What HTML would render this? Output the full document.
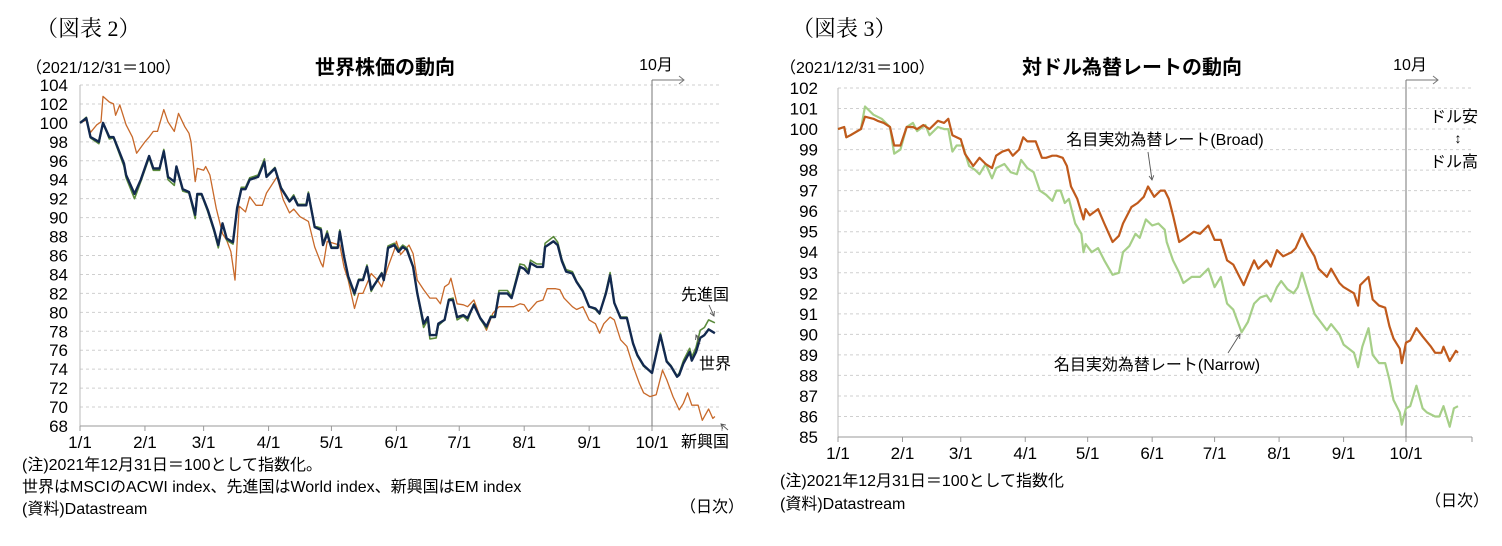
<!DOCTYPE html>
<html><head><meta charset="utf-8">
<style>
body{margin:0;background:#fff;width:1502px;height:546px;overflow:hidden;font-family:"Liberation Sans","Noto Sans CJK JP",sans-serif;}
svg{position:absolute;left:0;top:0}
text{font-family:"Liberation Sans","Noto Sans CJK JP",sans-serif;fill:#000}
.ser{font-family:"Liberation Serif","Noto Serif CJK SC",serif}
</style></head><body>
<svg id="c" width="1502" height="546">
<text class="ser" x="36" y="36" font-size="22">（図表 2）</text>
<text class="ser" x="792" y="36" font-size="22">（図表 3）</text>
<text x="26" y="73" font-size="16">（2021/12/31＝100）</text>
<text x="385" y="74" font-size="20" font-weight="bold" text-anchor="middle">世界株価の動向</text>
<text x="780" y="73" font-size="16">（2021/12/31＝100）</text>
<text x="1132" y="74" font-size="20" font-weight="bold" text-anchor="middle">対ドル為替レートの動向</text>
<text x="22" y="470" font-size="16">(注)2021年12月31日＝100として指数化。</text>
<text x="22" y="492" font-size="16">世界はMSCIのACWI index、先進国はWorld index、新興国はEM index</text>
<text x="22" y="514" font-size="16">(資料)Datastream</text>
<text x="680" y="512" font-size="16">（日次）</text>
<text x="780" y="486" font-size="16">(注)2021年12月31日＝100として指数化</text>
<text x="780" y="509" font-size="16">(資料)Datastream</text>
<text x="1425" y="506" font-size="16">（日次）</text>
<g id="g"></g>
</svg>
<script>
// Left chart data (day of year, value)
const worldDays=[0,3,5,9,11,14,16,21,22,26,29,33,35,38,40,42,45,46,49,52,55,56,58,61,64,66,68,70,73,75,77,79,81,85,88,89,93,96,100,102,104,108,109,112,115,116,118,120,123,124,126,128,131,133,135,137,139,142,144,145,147,150,152,154,156,159,161,164,166,167,170,171,174,176,178,180,183,185,188,191,194,196,198,200,204,206,210,212,214,215,218,221,222,226,228,230,232,235,237,240,243,246,248,251,253,255,258,261,264,266,269,273,274,277,280,282,285,286,288,291,292,294,296,298,300,303];
const worldVals=[100,100.5,98.5,98,100,98.5,98.5,95.7,94.5,92.5,94,96.5,95.2,95.2,97,94.3,93.8,95.4,93,92.7,90.3,92.5,92.5,90.8,88.7,87.1,89.4,87.8,87.4,91,93,93,94,94.3,95.9,94.3,95.2,93.1,91.7,92.2,91.3,91.3,92.5,89,88.7,87.1,88.3,86.8,86.8,88.5,85.9,83.8,82,83.4,83.4,84.8,82.4,83.4,84.1,83.4,86.8,87.1,86.4,86.9,86.6,84.8,82,78.8,79.5,77.6,77.6,78.8,79.2,81.3,81.3,79.5,79.7,79.4,80.8,79.4,78.5,79.5,79.5,82,82,81.5,84.8,84.6,84.1,85.2,84.8,84.8,86.9,87.5,87.1,85.4,84.3,84.1,83.2,82.2,80.6,80.4,79.9,82,83.9,81,79.4,79.4,76.7,75.5,74.4,73.6,74.6,77.6,74.8,74.3,73.2,73.4,74.6,75.8,74.9,75.8,77.3,77.6,78.2,77.8];
const devVals=[100,100.6,98.4,97.8,100,98.3,98.4,95.4,94.2,92,93.8,96.3,95,95,97.2,94,93.4,95.3,92.8,92.6,89.9,92.4,92.4,90.6,88.5,86.8,89.3,87.6,87.2,91.1,93.2,93.2,94.2,94.5,96.2,94.4,95.3,93.2,91.8,92.4,91.4,91.4,92.7,89.1,88.9,87.2,88.6,86.9,86.9,88.7,85.9,83.6,81.8,83.5,83.5,85,82.2,83.5,84.2,83.5,87,87.3,86.6,87.1,86.8,84.9,81.9,78.4,79.2,77.2,77.3,78.6,79.2,81.4,81.5,79.2,79.6,79.1,80.9,79.3,78.3,79.6,79.6,82.3,82.3,81.7,85.1,85,84.4,85.5,85.1,85.1,87.3,88,87.4,85.6,84.5,84.3,83.3,82.3,80.6,80.3,79.8,82.2,84.2,81,79.5,79.5,76.7,75.4,74.3,73.6,74.6,77.8,74.9,74.4,73.3,73.6,74.9,76.2,75.3,76.3,78.1,78.4,79.2,78.9];
const emDays=[0,3,5,8,10,11,14,16,17,19,22,25,27,31,33,35,37,40,42,45,47,50,52,53,55,56,59,60,62,65,68,70,72,74,76,79,81,84,87,89,94,97,100,102,105,109,112,115,116,118,121,124,126,128,131,133,135,139,142,144,147,150,151,153,157,159,161,164,167,170,172,174,176,177,180,183,185,188,191,194,197,200,204,207,210,212,214,218,221,223,227,229,231,235,237,240,243,246,248,250,253,255,258,261,264,267,269,272,275,278,280,283,286,288,290,292,295,297,300,302,303];
const emVals=[100,100.3,99,99.8,100.1,102.8,102.2,102,100.8,101.9,99.8,98.5,96.8,98,98.5,99.1,99.1,101.4,100.1,99.1,101,99.6,98.9,98,93.8,95.2,95,95.4,94.5,91,88.3,87.6,86.4,83.4,91.2,90.6,92.2,91.3,91.3,92.6,94.3,91.9,90.5,90.9,90.1,89.6,86.9,85.2,84.8,87.5,87.3,87.1,84.8,83.4,80.4,82,82,84.1,83.4,82.7,84.8,86.6,87.5,86.1,87.1,86.2,83.4,82.4,81.5,81.5,80.9,82.7,83,83.6,80.9,80.8,80.6,81.3,79.5,78.1,79.9,80.6,80.6,80.6,80.9,80.8,80.1,81.1,81.3,82.5,82.5,82.4,81.5,80.6,80.3,80.6,79.2,78.8,77.8,78.8,79.5,79.2,77.1,76.4,74.3,72.5,71.5,71.1,71.3,73.9,72.9,71.1,69.7,70.4,71.5,70.2,70.2,68.6,69.8,68.8,69];
const leftTicks=[104,102,100,98,96,94,92,90,88,86,84,82,80,78,76,74,72,70,68];
const monthLabels=["1/1","2/1","3/1","4/1","5/1","6/1","7/1","8/1","9/1","10/1"];
const monthDays=[0,31,59,90,120,151,181,212,243,273];
// Right chart data
const broadDays=[0,3,4,6,11,13,17,19,22,25,27,30,33,36,38,41,44,48,51,53,55,59,61,65,68,71,74,76,79,82,84,87,89,91,95,98,100,103,105,108,110,112,115,118,119,121,125,128,132,135,137,141,144,147,149,152,155,157,159,161,164,167,171,174,178,181,184,187,190,195,197,200,202,206,208,211,214,218,220,223,226,229,231,235,237,241,243,248,250,251,255,257,260,263,265,267,270,271,273,275,278,281,285,287,290,291,294,297,298];
const broadVals=[100,100.1,99.6,99.7,100,100.6,100.5,100.4,100.3,100.1,99.2,99.2,100.1,100.1,100,100.2,100,100.4,100.3,100.5,99.7,99.5,98.8,98.2,98.6,98.3,98.1,98.7,98.9,99,98.7,99,99.6,99.4,99.4,98.6,98.6,98.7,98.7,98.6,98.2,97.2,96.6,95.6,96.1,95.8,96.1,95.4,94.5,94.8,95.4,96.2,96.4,96.7,97.2,96.7,97,97,96.6,95.8,94.5,94.7,95,94.9,95.3,94.6,94.6,93.6,93.4,92.4,92.9,93.6,93.2,93.6,93.3,94.1,93.8,94,94.2,94.9,94.3,93.8,93.2,92.8,93.2,92.5,92.3,92,91.4,92.4,92.8,91.7,91.4,91.3,90.4,89.8,89.3,88.6,89.6,89.7,90.3,89.9,89.4,89.1,89.1,89.4,88.7,89.2,89.1];
const narrowDays=[0,3,4,6,11,13,17,21,25,27,30,33,36,38,42,44,48,51,53,55,57,60,63,66,68,71,74,76,80,83,86,88,91,94,97,100,103,105,107,109,111,114,117,118,119,122,125,128,132,135,137,140,143,145,148,151,154,157,158,161,164,166,170,174,178,181,184,187,190,194,197,200,203,206,208,211,213,216,219,221,223,226,229,232,235,237,241,243,248,250,252,255,257,260,263,265,267,270,271,273,275,278,281,283,287,289,291,294,296,298];
const narrowVals=[100,100.1,99.6,99.7,100,101.1,100.7,100.5,100.1,98.8,99,100.1,100.3,99.9,100.2,99.7,100.1,100,100,98.9,99.2,99.2,98.2,98,97.8,98.3,97.6,98.1,98.3,97.9,97.8,98.5,98.1,97.9,97,96.8,96.5,97,97,96.4,96.6,95.4,94.9,94,94.4,94,94.2,93.6,92.9,93,94,94.3,94.9,94.7,95.6,95.3,95.4,95.1,94.5,93.6,93,92.5,92.8,92.8,93.2,92.3,92.8,91.5,91.2,90.1,90.6,91.5,91.8,91.9,91.6,92.3,92.6,92.2,92,92.3,93,92,91,90.6,90.2,90.5,90,89.5,89.1,88.4,89.4,90.3,89,88.6,88.6,87.8,86.8,86.2,85.6,86.4,86.5,87.5,86.4,86.2,86,86,86.5,85.5,86.4,86.5];
const rightTicks=[102,101,100,99,98,97,96,95,94,93,92,91,90,89,88,87,86,85];

const NS="http://www.w3.org/2000/svg";
const g=document.getElementById('g');
function mk(tag,at,parent){const e=document.createElementNS(NS,tag);for(const k in at)e.setAttribute(k,at[k]);(parent||g).appendChild(e);return e;}
const L={x0:80,x10:652,xEnd:722,yTop:85,yBot:426,vMax:104,vMin:68};
const R={x0:838,x10:1406,xEnd:1472,yTop:88,yBot:437,vMax:102,vMin:85};
function xs(C,d){return C.x0+d*(C.x10-C.x0)/273;}
function ys(C,v){return C.yTop+(C.vMax-v)*(C.yBot-C.yTop)/(C.vMax-C.vMin);}
function axes(C,ticks,side,lblX){
  ticks.forEach(t=>{
    const y=ys(C,t);
    if(t!==C.vMin){const gl=mk('line',{x1:C.x0,x2:C.xEnd,y1:y,y2:y,stroke:'#cfcfcf','stroke-dasharray':'3,3'});
    
    }
    const tx=mk('text',{x:lblX,y:y+6,'font-size':17,'text-anchor':'end'});tx.textContent=t;
    
    
  });
  const ya=mk('line',{x1:C.x0,x2:C.x0,y1:C.yTop,y2:C.yBot,stroke:'#bbb'});
  
  
  const xa=mk('line',{x1:C.x0,x2:C.xEnd,y1:C.yBot,y2:C.yBot,stroke:'#999'});
  
  
  monthDays.forEach((d,i)=>{
    const x=xs(C,d);
    mk('line',{x1:x,x2:x,y1:C.yBot,y2:C.yBot+5,stroke:'#999'});
    const tx=mk('text',{x:x,y:C.yBot+22,'font-size':17,'text-anchor':'middle'});tx.textContent=monthLabels[i];
    
    
  });
  mk('line',{x1:C.xEnd,x2:C.xEnd,y1:C.yBot,y2:C.yBot+5,stroke:'#999'});
  const x10=xs(C,273);
  const vl=mk('line',{x1:x10,x2:x10,y1:80,y2:C.yBot,stroke:'#777'});
  
  
  mk('polyline',{points:`${x10},80 ${x10+32},80`,stroke:'#777',fill:'none'});
  mk('polyline',{points:`${x10+27},76 ${x10+32},80 ${x10+27},84`,stroke:'#777',fill:'none'});
  const oc=mk('text',{x:x10+4,y:70,'font-size':16,'text-anchor':'middle'});oc.textContent='10月';
  
  
}
function series(C,days,vals,color,w,name){
  const pts=days.map((d,i)=>xs(C,d).toFixed(1)+','+ys(C,vals[i]).toFixed(1)).join(' ');
  const p=mk('polyline',{points:pts,fill:'none',stroke:color,'stroke-width':w,'stroke-linejoin':'round'});
  
  
}
axes(L,leftTicks,'left',68);
axes(R,rightTicks,'right',818);
series(L,emDays,emVals,'#c8692a',1.3,'emerging-series');
series(L,worldDays,devVals,'#5a8a3c',1.6,'developed-series');
series(L,worldDays,worldVals,'#12294f',2.4,'world-series');
series(R,narrowDays,narrowVals,'#a6cf88',2.2,'narrow-series');
series(R,broadDays,broadVals,'#c05a1c',2.2,'broad-series');
function label(x,y,t,name,anchor,size){const e=mk('text',{x:x,y:y,'font-size':size||16,'text-anchor':anchor||'start'});e.textContent=t;
  
  }
function arrow(x1,y1,x2,y2){mk('line',{x1,y1,x2,y2,stroke:'#555','stroke-width':0.9});
  const a=Math.atan2(y2-y1,x2-x1),s=5;
  mk('polyline',{points:`${x2-s*Math.cos(a-0.5)},${y2-s*Math.sin(a-0.5)} ${x2},${y2} ${x2-s*Math.cos(a+0.5)},${y2-s*Math.sin(a+0.5)}`,fill:'none',stroke:'#555','stroke-width':0.9});}
label(681,300,'先進国','developed-label');
arrow(709,305,714,316);
label(699,369,'世界','world-label');
arrow(700,344,696,335);
label(681,447,'新興国','emerging-label');
arrow(728,430,721,424);
label(1165,145,'名目実効為替レート(Broad)','broad-label','middle');
arrow(1148,152,1152,180);
label(1157,370,'名目実効為替レート(Narrow)','narrow-label','middle');
arrow(1228,353,1240,334);
label(1454,122,'ドル安','dollar-weak-label','middle');
label(1454,167,'ドル高','dollar-strong-label','middle');
label(1458,143,'↕','dollar-direction-arrow','middle',14);
</script>
</body></html>
